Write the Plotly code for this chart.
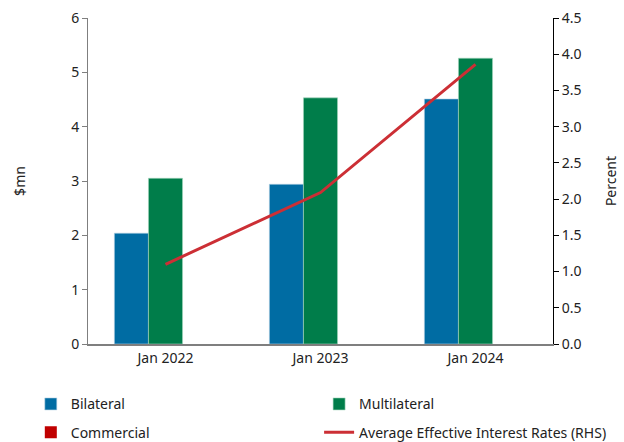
import plotly.graph_objects as go

categories = ["Jan 2022", "Jan 2023", "Jan 2024"]
bilateral = [2.04, 2.94, 4.51]
multilateral = [3.05, 4.53, 5.26]
commercial = [0, 0, 0]
avg_rate = [1.10, 2.09, 3.86]

FONT = "Noto Sans"
fig = go.Figure()
fig.add_bar(x=categories, y=bilateral, name="Bilateral", legend="legend", legendgroup="a",
            marker=dict(color="#006CA3", line=dict(color="#B8D4E4", width=0.6)))
fig.add_bar(x=categories, y=multilateral, name="Multilateral", legend="legend2", legendgroup="b",
            marker=dict(color="#007D4A", line=dict(color="#A8D8C0", width=0.6)))
fig.add_bar(x=categories, y=commercial, name="Commercial", legend="legend", legendgroup="c",
            marker=dict(color="#C00000", line=dict(width=0)))
fig.add_scatter(x=categories, y=avg_rate, name="Average Effective Interest Rates (RHS)", mode="lines",
                legend="legend2", legendgroup="d",
                line=dict(color="#CC2F35", width=3), yaxis="y2")

leg_common = dict(orientation="v", yanchor="top", y=-0.136, xanchor="left",
                  font=dict(size=14), itemwidth=30, traceorder="grouped", tracegroupgap=7,
                  bgcolor="rgba(0,0,0,0)")

fig.update_layout(
    width=624, height=442,
    margin=dict(l=88, r=71, t=18, b=98, autoexpand=False),
    paper_bgcolor="white", plot_bgcolor="white",
    font=dict(family=FONT, size=14, color="#222222"),
    barmode="group", bargap=0.34, bargroupgap=0,
    xaxis=dict(showline=True, linecolor="#7F7F7F", linewidth=1.5, ticks="", showgrid=False,
               tickfont=dict(size=14), automargin=False),
    yaxis=dict(range=[0, 6], dtick=1, showline=True, linecolor="#7F7F7F", linewidth=1,
               ticks="outside", ticklen=5, tickcolor="#7F7F7F", showgrid=False, zeroline=False,
               automargin=False, title=dict(text="$mn", standoff=42, font=dict(size=14))),
    yaxis2=dict(range=[0, 4.5], dtick=0.5, tickformat=".1f", overlaying="y", side="right",
                showline=True, linecolor="#000000", linewidth=1, ticks="outside", ticklen=5,
                tickcolor="#000000", showgrid=False, zeroline=False, automargin=False,
                title=dict(text="Percent", standoff=25, font=dict(size=14))),
    legend=dict(leg_common, x=-0.123),
    legend2=dict(leg_common, x=0.497),
    showlegend=True,
)

fig.write_html("out.html", post_script="document.body.style.margin='0';",
               config={"displayModeBar": False})
